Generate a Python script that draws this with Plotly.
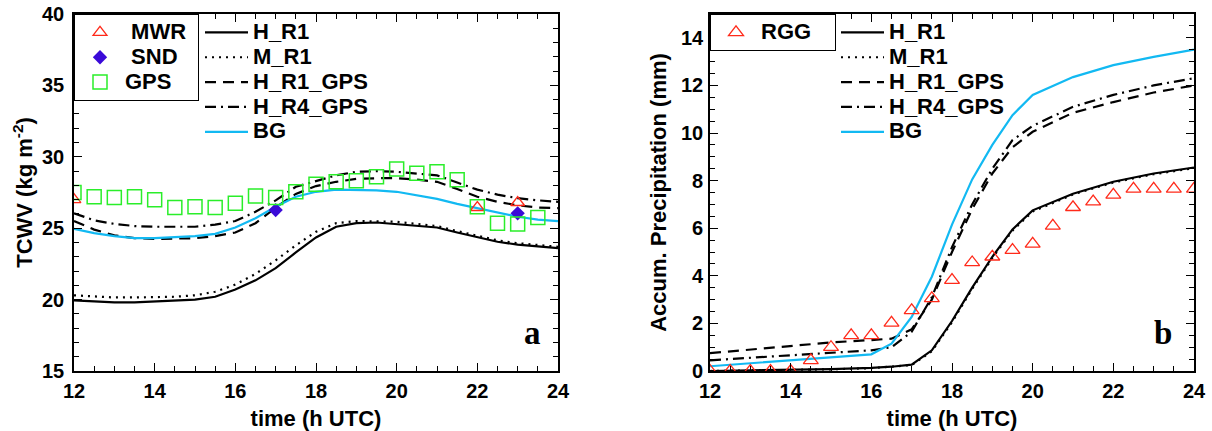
import plotly.graph_objects as go

# ---------------- data: panel a (TCWV, kg m-2) ----------------
t_model_a = [12, 12.5, 13, 13.5, 14, 14.5, 15, 15.5, 16, 16.5, 17, 17.5, 18,
             18.5, 19, 19.5, 20, 20.5, 21, 21.5, 22, 22.5, 23, 23.5, 24]
a_H_R1 = [19.95, 19.85, 19.8, 19.8, 19.85, 19.9, 20.0, 20.2, 20.7, 21.35, 22.2, 23.3, 24.35,
          25.1, 25.35, 25.4, 25.3, 25.2, 25.05, 24.7, 24.35, 24.05, 23.85, 23.7, 23.6]
a_M_R1 = [20.3, 20.2, 20.15, 20.15, 20.15, 20.2, 20.3, 20.55, 21.05, 21.8, 22.75, 23.8, 24.75,
          25.35, 25.5, 25.5, 25.45, 25.3, 25.15, 24.8, 24.45, 24.15, 23.95, 23.8, 23.7]
a_H_R1_GPS = [25.5, 24.9, 24.5, 24.3, 24.25, 24.25, 24.3, 24.45, 24.7, 25.35, 26.45, 27.4, 27.95,
              28.25, 28.45, 28.5, 28.5, 28.4, 28.25, 27.75, 27.2, 26.85, 26.6, 26.45, 26.4]
a_H_R4_GPS = [26.05, 25.55, 25.3, 25.15, 25.1, 25.1, 25.1, 25.25, 25.5, 26.15, 26.95, 27.9, 28.3,
              28.7, 28.95, 29.0, 28.95, 28.85, 28.7, 28.2, 27.7, 27.35, 27.1, 26.95, 26.85]
a_BG = [24.95, 24.65, 24.45, 24.3, 24.3, 24.35, 24.45, 24.6, 25.05, 25.7, 26.5, 27.2, 27.55,
        27.7, 27.7, 27.65, 27.55, 27.3, 27.05, 26.7, 26.4, 26.05, 25.8, 25.6, 25.5]

t_mwr = [12, 22, 23]
v_mwr = [27.0, 26.45, 26.8]
t_snd = [17, 23]
v_snd = [26.27, 26.04]
t_gps = [12, 12.5, 13, 13.5, 14, 14.5, 15, 15.5, 16, 16.5, 17, 17.5, 18,
         18.5, 19, 19.5, 20, 20.5, 21, 21.5, 22, 22.5, 23, 23.5]
v_gps = [27.5, 27.2, 27.15, 27.2, 27.0, 26.45, 26.5, 26.45, 26.75, 27.25, 27.15, 27.55, 28.07,
         28.26, 28.33, 28.6, 29.15, 28.85, 28.95, 28.4, 26.5, 25.35, 25.3, 25.75]

# ---------------- data: panel b (accumulated precipitation, mm) ----------------
t_model_b = [12, 13, 14, 15, 16, 16.5, 17, 17.5, 18, 18.5, 19, 19.5, 20, 21, 22, 23, 24]
b_H_R1 = [0.0, 0.02, 0.04, 0.08, 0.13, 0.18, 0.27, 0.87, 2.1, 3.5, 4.8, 5.95, 6.75, 7.45, 7.95, 8.3, 8.55]
b_M_R1 = [0.0, 0.02, 0.04, 0.07, 0.12, 0.17, 0.25, 0.83, 2.05, 3.45, 4.75, 5.9, 6.7, 7.42, 7.92, 8.27, 8.52]
b_H_R1_GPS = [0.75, 0.9, 1.05, 1.2, 1.3, 1.36, 1.75, 3.0, 5.0, 6.8, 8.3, 9.4, 10.05, 10.85, 11.3, 11.7, 12.0]
b_H_R4_GPS = [0.45, 0.55, 0.65, 0.75, 0.87, 1.0, 1.65, 3.1, 5.2, 7.0, 8.5, 9.7, 10.3, 11.1, 11.6, 12.0, 12.3]
b_BG = [0.2, 0.32, 0.45, 0.57, 0.7, 1.15, 2.27, 3.96, 6.15, 8.05, 9.5, 10.75, 11.6, 12.35, 12.85, 13.2, 13.5]

t_rgg = [12, 12.5, 13, 13.5, 14, 14.5, 15, 15.5, 16, 16.5, 17, 17.5, 18,
         18.5, 19, 19.5, 20, 20.5, 21, 21.5, 22, 22.5, 23, 23.5, 24]
v_rgg = [0.0, 0.0, 0.0, 0.0, 0.0, 0.45, 1.0, 1.5, 1.5, 2.02, 2.55, 3.05, 3.82,
         4.56, 4.8, 5.08, 5.34, 6.1, 6.88, 7.12, 7.4, 7.65, 7.65, 7.65, 7.65]

# ---------------- styles ----------------
FONT = "Liberation Sans, Arial, sans-serif"
SERIF = "Liberation Serif, Times New Roman, serif"
CYAN = "#12B9F2"
RED = "#FF2A1A"
GREEN = "#2AEE2A"
BLUE = "#3A0AD8"
NB = "\u00a0"


def big(txt, size=22):
    return '<span style="font-size:%dpx">%s</span>' % (size, txt)


line_styles = [
    ("H_R1", "black", "solid"),
    ("M_R1", "black", "2px,5px"),
    ("H_R1_GPS", "black", "11px,7px"),
    ("H_R4_GPS", "black", "11px,5px,2px,5px"),
    ("BG", CYAN, "solid"),
]

fig = go.Figure()

panels = [
    ("x", "y", t_model_a, [a_H_R1, a_M_R1, a_H_R1_GPS, a_H_R4_GPS, a_BG], "legend2"),
    ("x2", "y2", t_model_b, [b_H_R1, b_M_R1, b_H_R1_GPS, b_H_R4_GPS, b_BG], "legend4"),
]
for xa, ya, tt, series, lg in panels:
    for (name, col, dash), vals in zip(line_styles, series):
        fig.add_trace(go.Scatter(
            x=tt, y=vals, mode="lines", name=big(name), xaxis=xa, yaxis=ya, legend=lg,
            line=dict(color=col, width=2.2, dash=dash)))

fig.add_trace(go.Scatter(x=t_mwr, y=v_mwr, mode="markers", name=big(NB + "MWR" + NB),
                         legend="legend",
                         marker=dict(symbol="triangle-up-open", size=12, color=RED, line=dict(width=1.3))))
fig.add_trace(go.Scatter(x=t_snd, y=v_snd, mode="markers", name=big(NB + "SND"), legend="legend",
                         marker=dict(symbol="diamond", size=11, color=BLUE)))
fig.add_trace(go.Scatter(x=t_gps, y=v_gps, mode="markers", name=big("GPS"), legend="legend",
                         marker=dict(symbol="square-open", size=14, color=GREEN, line=dict(width=1.5))))
fig.add_trace(go.Scatter(x=t_rgg, y=v_rgg, mode="markers", name=big("RGG" + NB * 3),
                         xaxis="x2", yaxis="y2", legend="legend3",
                         marker=dict(symbol="triangle-up-open", size=13, color=RED, line=dict(width=1.3))))

W, H = 1212, 431
top_px, bot_px = 14, 371
ydom = [1 - bot_px / H, 1 - top_px / H]

tickfont = dict(family=FONT, size=20, color="black", weight="bold")
titlefont = dict(family=FONT, size=22, color="black", weight="bold")
axis_common = dict(showline=True, linecolor="black", linewidth=1.6, mirror="allticks",
                   ticks="inside", ticklen=8, tickwidth=1.4, tickcolor="black",
                   showgrid=False, zeroline=False, tickfont=tickfont, automargin=False)
minor_common = dict(ticklen=5, ticks="inside", tickcolor="black", tickwidth=1.2)
legfont = dict(family=FONT, size=16.8, color="black", weight="bold")

fig.update_layout(
    template="none",
    width=W, height=H, margin=dict(l=0, r=0, t=0, b=0, autoexpand=False),
    paper_bgcolor="white", plot_bgcolor="white",
    font=dict(family=FONT, size=20, color="black", weight="bold"),
    showlegend=True,
    xaxis=dict(domain=[74 / W, 558 / W], range=[12, 24], dtick=2, anchor="y",
               minor=dict(dtick=0.5, **minor_common), ticklabelstandoff=1,
               title=dict(text="time (h UTC)", standoff=14, font=titlefont), **axis_common),
    yaxis=dict(domain=ydom, range=[15, 40], dtick=5, anchor="x",
               minor=dict(dtick=1, **minor_common), ticklabelstandoff=4,
               title=dict(text="TCWV (kg m<sup>-2</sup>)", standoff=3, font=titlefont), **axis_common),
    xaxis2=dict(domain=[710 / W, 1194 / W], range=[12, 24], dtick=2, anchor="y2",
                minor=dict(dtick=0.5, **minor_common), ticklabelstandoff=1,
                title=dict(text="time (h UTC)", standoff=14, font=titlefont), **axis_common),
    yaxis2=dict(domain=ydom, range=[0, 15], dtick=2, anchor="x2",
                minor=dict(dtick=0.5, **minor_common), ticklabelstandoff=1,
                title=dict(text="Accum. Precipitation (mm)", standoff=8, font=titlefont),
                **axis_common),
    legend=dict(x=74 / W, y=1 - top_px / H, xanchor="left", yanchor="top",
                bgcolor="white", bordercolor="black", borderwidth=1, itemwidth=40, font=legfont),
    legend2=dict(x=200 / W, y=1 - 15 / H, xanchor="left", yanchor="top",
                 bgcolor="rgba(0,0,0,0)", borderwidth=0, itemwidth=43, font=legfont),
    legend3=dict(x=710 / W, y=1 - top_px / H, xanchor="left", yanchor="top",
                 bgcolor="white", bordercolor="black", borderwidth=1, itemwidth=40, font=legfont),
    legend4=dict(x=836 / W, y=1 - 15 / H, xanchor="left", yanchor="top",
                 bgcolor="rgba(0,0,0,0)", borderwidth=0, itemwidth=43, font=legfont),
    annotations=[
        dict(text="a", xref="x domain", yref="y domain", x=0.948, y=0.106,
             xanchor="center", yanchor="middle", showarrow=False,
             font=dict(family=SERIF, size=33, weight="bold", color="black")),
        dict(text="b", xref="x2 domain", yref="y2 domain", x=0.936, y=0.106,
             xanchor="center", yanchor="middle", showarrow=False,
             font=dict(family=SERIF, size=33, weight="bold", color="black")),
    ],
)

fig.write_html("out.html", config={"displayModeBar": False},
               post_script="document.body.style.margin='0';document.body.style.overflow='hidden';")
